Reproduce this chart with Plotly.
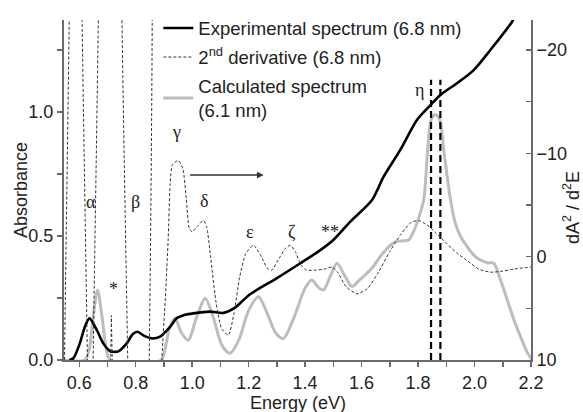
import plotly.graph_objects as go

# ---------------- data ----------------
exp_x = [0.565, 0.579, 0.602, 0.620, 0.636, 0.662, 0.685, 0.709, 0.720, 0.740, 0.768,
         0.790, 0.806, 0.830, 0.857, 0.886, 0.922, 0.945, 0.975, 1.004, 1.063, 1.111,
         1.150, 1.205, 1.300, 1.383, 1.450, 1.500, 1.560, 1.637, 1.678, 1.737, 1.796,
         1.844, 1.879, 1.938, 1.997, 2.056, 2.133, 2.140]
exp_y = [0.000, 0.007, 0.067, 0.134, 0.168, 0.121, 0.067, 0.036, 0.033, 0.036, 0.067,
         0.105, 0.114, 0.097, 0.087, 0.094, 0.134, 0.168, 0.182, 0.188, 0.195, 0.190,
         0.210, 0.265, 0.330, 0.390, 0.440, 0.484, 0.558, 0.645, 0.739, 0.847, 0.968,
         1.028, 1.069, 1.116, 1.169, 1.250, 1.364, 1.380]

der_x = [0.546, 0.562, 0.568, 0.615, 0.622, 0.655, 0.662, 0.706, 0.714, 0.722,
         0.765, 0.771, 0.823, 0.829, 0.880, 0.893, 0.905, 0.915, 0.922, 0.930, 0.951,
         0.967, 0.979, 0.990, 1.000, 1.020, 1.040, 1.052, 1.065, 1.085, 1.105, 1.128,
         1.148, 1.168, 1.190, 1.217, 1.245, 1.265, 1.282, 1.305, 1.330, 1.347, 1.365,
         1.385, 1.405, 1.440, 1.470, 1.495, 1.515, 1.545, 1.584, 1.620, 1.660, 1.700,
         1.740, 1.775, 1.802, 1.830, 1.860, 1.900, 1.940, 1.975, 2.015, 2.056, 2.100,
         2.140, 2.200]
der_y = [-60, -60, 60, 60, -60, -60, 60, 60, 5.7, 60,
         60, -60, -60, 60, 40, 10, 4.0, -1.7, -7.0, -8.9, -9.3,
         -8.5, -5.6, -2.7, -2.4, -3.0, -3.5, -2.8, 0.0, 4.5, 7.0, 7.6,
         5.5, 2.0, -0.3, -1.1, 0.0, 1.1, 1.3, 0.3, -0.8, -1.1, -0.5,
         0.8, 1.3, 1.3, 1.2, 1.0, 1.5, 2.9, 3.6, 3.1, 1.5, -0.5,
         -2.2, -3.3, -3.5, -3.1, -2.4, -1.3, -0.3, 0.4, 1.2, 1.5, 1.4,
         1.2, 1.0]

calc_x = [0.546, 0.620, 0.635, 0.650, 0.665, 0.680, 0.695, 0.709, 0.890, 0.905, 0.920,
          0.939, 0.962, 0.986, 1.015, 1.046, 1.075, 1.105, 1.134, 1.165, 1.200, 1.235,
          1.265, 1.295, 1.323, 1.360, 1.400, 1.424, 1.445, 1.465, 1.490, 1.513, 1.540,
          1.566, 1.590, 1.613, 1.640, 1.666, 1.695, 1.720, 1.745, 1.767, 1.785, 1.800,
          1.820, 1.834, 1.846, 1.861, 1.877, 1.891, 1.915, 1.932, 1.950, 1.974, 2.000,
          2.021, 2.045, 2.068, 2.090, 2.116, 2.140, 2.163, 2.185, 2.204]
calc_y = [0.000, 0.000, 0.040, 0.180, 0.282, 0.180, 0.050, 0.000, 0.000, 0.050, 0.130,
          0.168, 0.110, 0.080, 0.170, 0.249, 0.170, 0.060, 0.027, 0.080, 0.200, 0.255,
          0.190, 0.110, 0.087, 0.170, 0.290, 0.323, 0.295, 0.282, 0.340, 0.390, 0.340,
          0.296, 0.320, 0.343, 0.375, 0.417, 0.455, 0.477, 0.480, 0.484, 0.520, 0.565,
          0.645, 0.847, 0.968, 0.990, 0.968, 0.847, 0.645, 0.551, 0.500, 0.457, 0.420,
          0.403, 0.392, 0.390, 0.330, 0.242, 0.160, 0.094, 0.035, 0.000]

eta_lines = [1.846, 1.879]
eta_top = 1.13

labels = ["α", "β", "γ", "δ", "ε", "ζ", "η", "*", "**"]
label_x = [0.640, 0.798, 0.945, 1.043, 1.205, 1.353, 1.805, 0.722, 1.489]
label_y = [0.638, 0.638, 0.920, 0.641, 0.517, 0.517, 1.089, 0.285, 0.515]

arrow_x = [0.987, 1.253]
arrow_y = 0.746

x_ticks = [0.6, 0.8, 1.0, 1.2, 1.4, 1.6, 1.8, 2.0, 2.2]
x_ticktext = ["0.6", "0.8", "1.0", "1.2", "1.4", "1.6", "1.8", "2.0", "2.2"]
y_ticks = [0.0, 0.5, 1.0]
y_ticktext = ["0.0", "0.5", "1.0"]
y2_ticks = [-20, -10, 0, 10]
y2_ticktext = ["\u221220", "\u221210", "0", "10"]

x_title = "Energy (eV)"
y_title = "Absorbance"
y2_title = "dA<sup>2</sup> / d<sup>2</sup>E"

# ---------------- figure ----------------
SANS = "Liberation Sans, Arial, sans-serif"
SERIF = "Liberation Serif, Times New Roman, serif"
AX = "#6a6a6a"

fig = go.Figure()

fig.add_trace(go.Scatter(
    x=calc_x, y=calc_y, mode="lines", name="Calculated spectrum<br>(6.1 nm)",
    line=dict(color="#bdbdbd", width=3, shape="spline", smoothing=0.8),
    legendrank=3, legendgroup="c"))

fig.add_trace(go.Scatter(
    x=exp_x, y=exp_y, mode="lines", name="Experimental spectrum (6.8 nm)",
    line=dict(color="black", width=2.6, shape="spline", smoothing=0.8),
    legendrank=1, legendgroup="a"))

fig.add_trace(go.Scatter(
    x=[eta_lines[0], eta_lines[0], None, eta_lines[1], eta_lines[1]],
    y=[0, eta_top, None, 0, eta_top], mode="lines", showlegend=False,
    line=dict(color="black", width=2.2, dash="7px,4px")))

fig.add_trace(go.Scatter(
    x=der_x, y=der_y, mode="lines", name="2<sup>nd</sup> derivative (6.8 nm)",
    yaxis="y2",
    line=dict(color="#333333", width=1, dash="3px,2px", shape="spline", smoothing=0.6),
    legendrank=2, legendgroup="b"))

for t, lx, ly in zip(labels, label_x, label_y):
    fig.add_annotation(x=lx, y=ly, xref="x", yref="y", text=t, showarrow=False,
                       xanchor="center", yanchor="middle",
                       font=dict(family=SERIF, size=18, color="#222"))

fig.add_annotation(x=arrow_x[1], y=arrow_y, ax=arrow_x[0], ay=arrow_y,
                   xref="x", yref="y", axref="x", ayref="y", text="",
                   showarrow=True, arrowhead=2, arrowsize=0.9, arrowwidth=1.5,
                   arrowcolor="#333")

# axis titles
fig.add_annotation(x=0.5, y=-43 / 340, xref="paper", yref="paper", text=x_title,
                   xanchor="center", yanchor="middle",
                   showarrow=False, font=dict(family=SANS, size=18, color="#222"))
fig.add_annotation(x=-43 / 467, y=0.5, xref="paper", yref="paper", text=y_title,
                   xanchor="center", yanchor="middle",
                   textangle=-90, showarrow=False,
                   font=dict(family=SANS, size=18, color="#222"))
fig.add_annotation(x=(571 - 64) / 467, y=(360 - 208) / 340, xref="paper", yref="paper",
                   text=y2_title, textangle=-90, showarrow=False,
                   xanchor="center", yanchor="middle",
                   font=dict(family=SANS, size=18, color="#222"))

fig.update_layout(
    width=583, height=412,
    margin=dict(l=64, r=52, t=20, b=52, autoexpand=False),
    paper_bgcolor="white", plot_bgcolor="white",
    font=dict(family=SANS, size=18, color="#222"),
    showlegend=True,
    legend=dict(x=0.202, y=1.031, xanchor="left", yanchor="top",
                bgcolor="rgba(0,0,0,0)", font=dict(size=18.5, family=SANS),
                traceorder="grouped", tracegroupgap=2),
    xaxis=dict(range=[0.546, 2.2], showgrid=False, zeroline=False, automargin=False,
               showline=True, linecolor=AX, linewidth=2, mirror=False,
               tickvals=x_ticks, ticktext=x_ticktext, ticks="outside",
               ticklen=5, tickwidth=1.5, tickcolor=AX,
               minor=dict(dtick=0.1, tick0=0.6, ticks="outside", ticklen=5,
                          tickwidth=1.5, tickcolor=AX)),
    yaxis=dict(range=[0, 1.371], showgrid=False, zeroline=False, automargin=False,
               showline=True, linecolor=AX, linewidth=2,
               tickvals=y_ticks, ticktext=y_ticktext, ticks="outside",
               ticklen=5, tickwidth=1.5, tickcolor=AX,
               minor=dict(dtick=0.25, tick0=0, ticks="outside", ticklen=5,
                          tickwidth=1.5, tickcolor=AX)),
    yaxis2=dict(range=[10, -22.9], overlaying="y", side="right", automargin=False,
                showgrid=False, zeroline=False,
                showline=True, linecolor=AX, linewidth=2,
                tickvals=y2_ticks, ticktext=y2_ticktext, ticks="inside",
                ticklen=5, tickwidth=1.5, tickcolor=AX,
                minor=dict(dtick=5, tick0=0, ticks="inside", ticklen=5,
                           tickwidth=1.5, tickcolor=AX)),
)

# remove the default 8px page margin so the figure fills the window exactly
fig.write_html("out.html",
               config={"displayModeBar": False, "staticPlot": True},
               post_script="document.body.style.margin='0px';"
                           "document.body.style.overflow='hidden';")
